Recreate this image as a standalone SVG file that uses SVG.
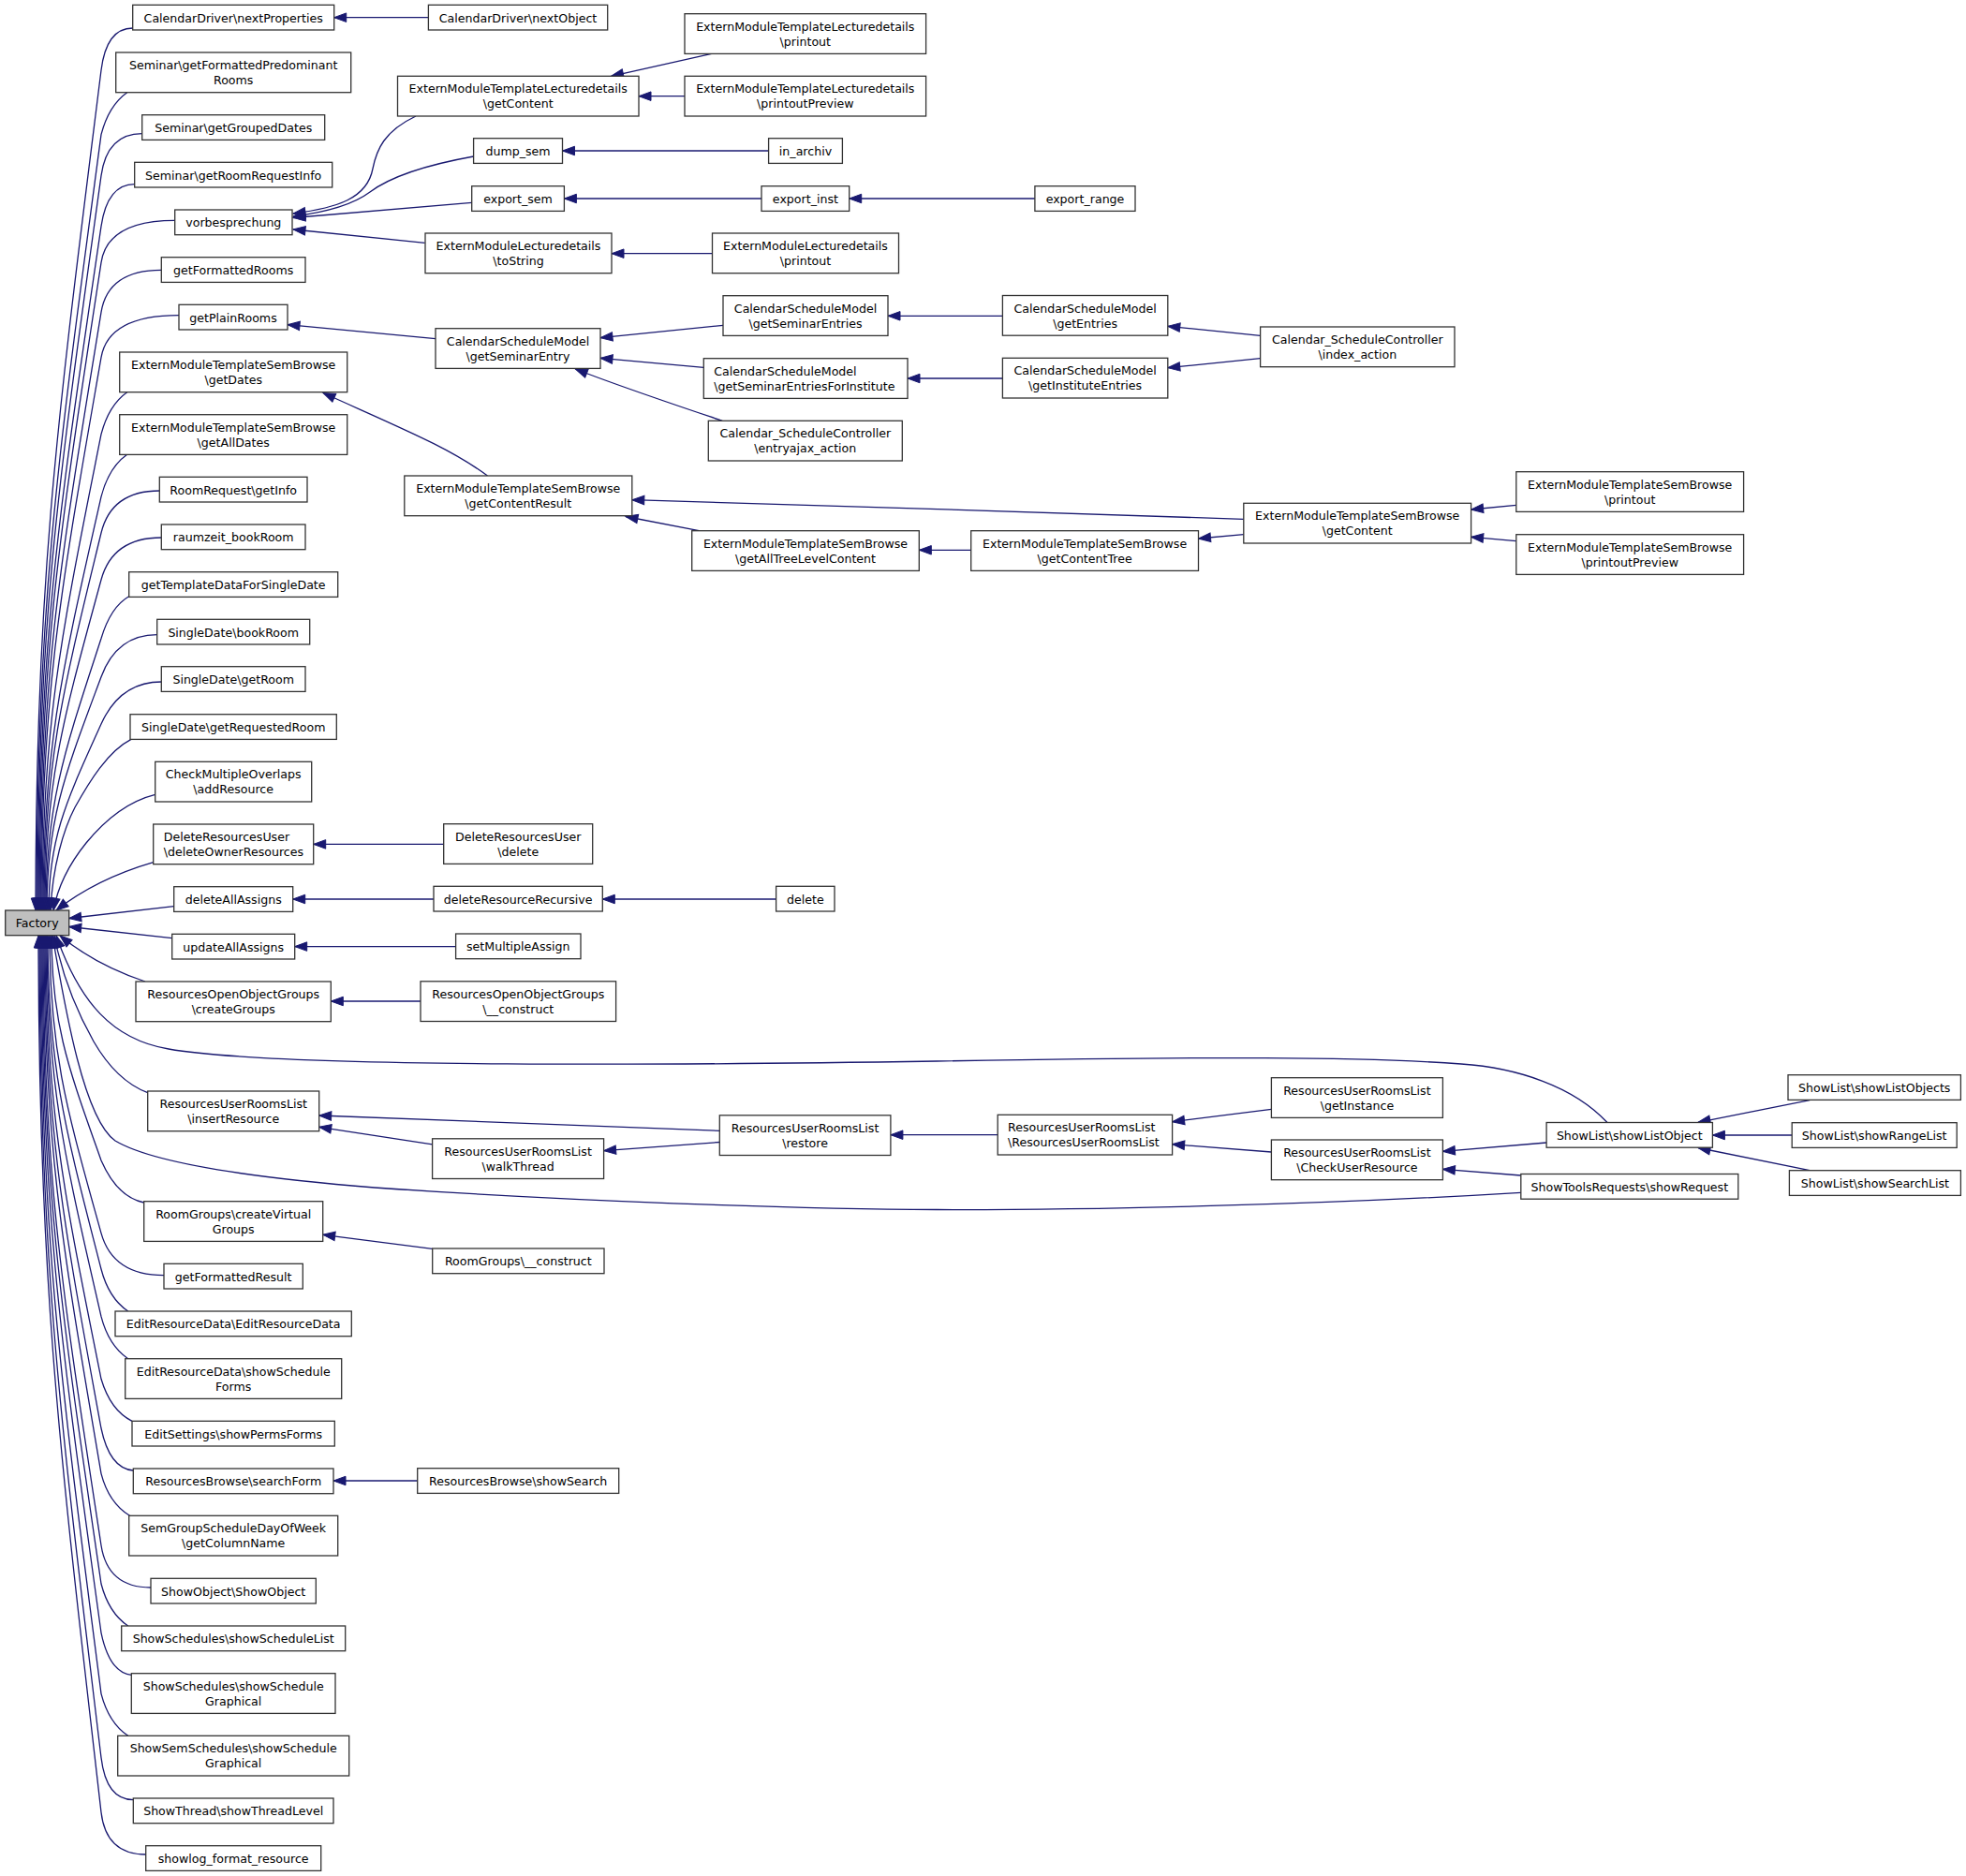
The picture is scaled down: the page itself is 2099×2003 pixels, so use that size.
<svg xmlns="http://www.w3.org/2000/svg" width="2099" height="2003" viewBox="0 0 2099 2003">
<style>
.n rect{fill:#fff;stroke:#333;stroke-width:1.3}
.n text{font-family:"DejaVu Sans",sans-serif;font-size:12.6px;fill:#000;text-anchor:middle}
.n text.l{text-anchor:start}
#Factory rect{fill:#bfbfbf}
.e path{fill:none;stroke:#191970;stroke-width:1.3;marker-end:url(#a)}
</style>
<defs>
<marker id="a" markerUnits="userSpaceOnUse" markerWidth="15" markerHeight="11" refX="13" refY="4.75" orient="auto" overflow="visible">
<path d="M0,0 L13,4.75 L0,9.5 z" fill="#191970" stroke="#191970" stroke-width="1"/>
</marker>
</defs>
<rect width="2099" height="2003" fill="#fff"/>
<g class="e" id="connectors">
<path d="M141.7,30 Q113.6,30 108,75 C63.2,433.8 38,613.2 38,972"/>
<path d="M135.7,98.7 Q116,112.7 108,143.7 C63.8,475 39,640.7 39,972"/>
<path d="M151.7,142.7 Q114.2,142.7 108,187.7 C64.5,501.4 40,658.3 40,972"/>
<path d="M143.7,196.7 Q114.6,196.7 108,241.7 C65.1,533.8 41,679.9 41,972"/>
<path d="M186.7,235.3 Q114.9,235.3 108,280.3 C65.8,557 42,695.3 42,972"/>
<path d="M172.3,288.3 Q115.3,288.3 108,333.3 C66.4,588.8 43,716.5 43,972"/>
<path d="M191,336.7 Q115.8,336.7 108,381.7 C67,617.8 44,735.9 44,972"/>
<path d="M135.7,418.7 Q116,432.7 108,463.7 C67.7,667 45,768.7 45,972"/>
<path d="M135.7,485.3 Q116,499.3 108,530.3 C68.3,707 46,795.3 46,972"/>
<path d="M170.3,524 Q118.9,524 108,569 C69,730.2 47,810.8 47,972"/>
<path d="M172.3,574 Q120.2,574 108,619 C69.6,760.2 48,830.8 48,972"/>
<path d="M137.7,636.7 Q118,648 108,681.7 C70.2,797.8 49,855.9 49,972"/>
<path d="M167.7,677.7 Q124.7,677.7 108,722.7 C70.9,822.4 50,872.3 50,972"/>
<path d="M172.3,728 Q128.3,728 108,773 C72.2,852.6 52,892.4 52,972"/>
<path d="M140,789.3 C115,802 95,835 80,862 C68,885 56,925 54,972"/>
<path d="M165.7,848.3 C135,856 110,878 92,900 C75,921 62,945 57,972"/>
<path d="M163.7,920.7 C125,932 88,950 60,972"/>
<path d="M185.7,967.7 L73.7,980.5"/>
<path d="M183.7,1001.7 L73.7,989.5"/>
<path d="M155,1048 C125,1038 92,1022 64,999"/>
<path d="M157.7,1166.7 C135,1158 115,1138 100,1112 C82,1080 66,1040 58,999"/>
<path d="M153.7,1284 Q125,1278 108,1239 C74.1,1143 55,1095 55,999"/>
<path d="M175,1361.7 Q120.5,1361.7 108,1316.7 C72.8,1189.6 53,1126.1 53,999"/>
<path d="M136.7,1400 Q116,1386 108,1355 C71.5,1212.6 51,1141.4 51,999"/>
<path d="M136.7,1450.7 Q116,1436.7 108,1405.7 C70.9,1243 50,1161.7 50,999"/>
<path d="M141,1517.3 Q118,1506 108,1472.3 C70.2,1283 49,1188.3 49,999"/>
<path d="M142.3,1570 Q117,1568 108,1525 C69.6,1314.6 48,1209.4 48,999"/>
<path d="M138.5,1618.3 Q116,1604.3 108,1573.3 C69,1343.6 47,1228.7 47,999"/>
<path d="M161,1695 Q114.9,1695 108,1650 C68.3,1389.6 46,1259.4 46,999"/>
<path d="M136.7,1736 Q116,1722 108,1691 C67.7,1414.2 45,1275.8 45,999"/>
<path d="M140.3,1788.3 Q117,1786 108,1743.3 C67,1445.6 44,1296.7 44,999"/>
<path d="M136.7,1853.3 Q116,1839.3 108,1808.3 C66.4,1484.6 43,1322.7 43,999"/>
<path d="M142.3,1921.7 Q113.4,1921.7 108,1876.7 C65.8,1525.6 42,1350.1 42,999"/>
<path d="M155.7,1980 Q113.2,1980 108,1935 C65.1,1560.6 41,1373.4 41,999"/>
<path d="M1715.8,1198.3 C1680,1160 1620,1140 1560,1136 C1450,1128 1300,1128 1000,1133 C750,1137 300,1141 180,1120 C120,1110 85,1070 60,999"/>
<path d="M1623.8,1273.3 C1400,1287 1150,1292 1000,1291.5 C850,1291 600,1282 400,1268 C250,1256 160,1240 123,1218 C90,1195 70,1080 56,999"/>
<path d="M457.4,18.7 L356.7,18.7"/>
<path d="M444,124 C410,140 402,160 398,180 C392,212 360,222 313,228"/>
<path d="M505.6,167 C450,177 415,190 395,205 C375,220 345,227 313,231"/>
<path d="M503.7,216.3 L313,232.5"/>
<path d="M453.6,259.3 L313,245"/>
<path d="M759.7,57.3 L652.6,81.3"/>
<path d="M731,102.7 L682,102.7"/>
<path d="M820.6,161 L600.5,161"/>
<path d="M813,212 L602.4,212"/>
<path d="M1104.9,212 L906.7,212"/>
<path d="M760.5,270.7 L653,270.7"/>
<path d="M465,361.7 L307,346.7"/>
<path d="M772,347.3 L641,360.7"/>
<path d="M751.3,392.3 L641,382.3"/>
<path d="M771.2,449.3 C720,432 660,412 614.3,394"/>
<path d="M1070.4,337.3 L948,337.3"/>
<path d="M1070.4,404 L969,404"/>
<path d="M1345.6,358.3 L1246.8,348.3"/>
<path d="M1345.6,382.7 L1246.8,392.7"/>
<path d="M520.5,508 C480,478 430,458 345,419.5"/>
<path d="M1327.8,554.3 C1100,547 900,540 674.8,533.7"/>
<path d="M746.3,566.7 L668,551.5"/>
<path d="M1036.7,587.3 L981.3,587.3"/>
<path d="M1327.8,570.7 L1279.5,575"/>
<path d="M1618.8,539.3 L1570.6,544"/>
<path d="M1618.8,577.7 L1570.6,573.3"/>
<path d="M473.7,901.4 L334.7,901.4"/>
<path d="M463,960 L312.7,960"/>
<path d="M828.6,960 L643.3,960"/>
<path d="M486.6,1010.6 L314.7,1010.6"/>
<path d="M449,1069 L353.3,1069"/>
<path d="M768.3,1207.3 L340.7,1191"/>
<path d="M461.6,1221.9 L340.7,1203.3"/>
<path d="M768.3,1219.5 L644.6,1228.6"/>
<path d="M1065.2,1211.7 L950.9,1211.7"/>
<path d="M1357.4,1184.3 L1251.6,1197.7"/>
<path d="M1357.4,1230 L1251.6,1221.7"/>
<path d="M1651.1,1220 L1540.4,1229.3"/>
<path d="M1623.8,1255 L1540.4,1248.3"/>
<path d="M1932.2,1174.7 L1813,1198.3"/>
<path d="M1913.2,1212 L1828.4,1212"/>
<path d="M1932.2,1249.7 L1813,1225.5"/>
<path d="M461.6,1333.4 L344.7,1318.3"/>
<path d="M445.7,1581 L356,1581"/>
</g>
<g id="nodes">
<g class="n" id="Factory"><rect x="5.7" y="972" width="68" height="26.7"/><text x="39.7" y="990.4">Factory</text></g>
<g class="n" id="nextProperties"><rect x="141.7" y="5.3" width="215" height="26.7"/><text x="249.2" y="23.7">CalendarDriver\nextProperties</text></g>
<g class="n" id="getFormattedPredominantRooms"><rect x="123.7" y="56" width="251" height="42.7"/><text x="249.2" y="74.1">Seminar\getFormattedPredominant</text><text x="249.2" y="90.1">Rooms</text></g>
<g class="n" id="getGroupedDates"><rect x="151.7" y="122.7" width="195" height="26.7"/><text x="249.2" y="141.1">Seminar\getGroupedDates</text></g>
<g class="n" id="getRoomRequestInfo"><rect x="143.7" y="173.3" width="211" height="26.7"/><text x="249.2" y="191.7">Seminar\getRoomRequestInfo</text></g>
<g class="n" id="vorbesprechung"><rect x="186.7" y="224" width="125.3" height="26.7"/><text x="249.3" y="242.4">vorbesprechung</text></g>
<g class="n" id="getFormattedRooms"><rect x="172.3" y="274.7" width="153.7" height="26.7"/><text x="249.2" y="293.1">getFormattedRooms</text></g>
<g class="n" id="getPlainRooms"><rect x="191" y="325.3" width="116" height="26.7"/><text x="249" y="343.7">getPlainRooms</text></g>
<g class="n" id="semGetDates"><rect x="127.7" y="376" width="243" height="42.7"/><text x="249.2" y="394.1">ExternModuleTemplateSemBrowse</text><text x="249.2" y="410.1">\getDates</text></g>
<g class="n" id="semGetAllDates"><rect x="127.7" y="442.7" width="243" height="42.7"/><text x="249.2" y="460.8">ExternModuleTemplateSemBrowse</text><text x="249.2" y="476.8">\getAllDates</text></g>
<g class="n" id="roomRequestGetInfo"><rect x="170.3" y="509.3" width="157.7" height="26.7"/><text x="249.2" y="527.7">RoomRequest\getInfo</text></g>
<g class="n" id="raumzeit_bookRoom"><rect x="172.3" y="560" width="153.7" height="26.7"/><text x="249.2" y="578.4">raumzeit_bookRoom</text></g>
<g class="n" id="getTemplateDataForSingleDate"><rect x="137.7" y="610.7" width="223" height="26.7"/><text x="249.2" y="629.1">getTemplateDataForSingleDate</text></g>
<g class="n" id="singleDateBookRoom"><rect x="167.7" y="661.3" width="163" height="26.7"/><text x="249.2" y="679.7">SingleDate\bookRoom</text></g>
<g class="n" id="singleDateGetRoom"><rect x="172.3" y="711.7" width="153.7" height="26.7"/><text x="249.2" y="730.1">SingleDate\getRoom</text></g>
<g class="n" id="singleDateGetRequestedRoom"><rect x="139" y="762.7" width="220.3" height="26.7"/><text x="249.2" y="781.1">SingleDate\getRequestedRoom</text></g>
<g class="n" id="checkMultipleOverlaps"><rect x="165.7" y="813.3" width="167" height="42.7"/><text x="249.2" y="831.4">CheckMultipleOverlaps</text><text x="249.2" y="847.4">\addResource</text></g>
<g class="n" id="deleteOwnerResources"><rect x="163.7" y="880" width="171" height="42.7"/><text class="l" x="174.7" y="898.1">DeleteResourcesUser</text><text class="l" x="174.7" y="914.1">\deleteOwnerResources</text></g>
<g class="n" id="deleteAllAssigns"><rect x="185.7" y="946.7" width="127" height="26.7"/><text x="249.2" y="965.1">deleteAllAssigns</text></g>
<g class="n" id="updateAllAssigns"><rect x="183.7" y="997.3" width="131" height="26.7"/><text x="249.2" y="1015.7">updateAllAssigns</text></g>
<g class="n" id="createGroups"><rect x="145" y="1048" width="208.3" height="42.7"/><text x="249.2" y="1066.1">ResourcesOpenObjectGroups</text><text x="249.2" y="1082.1">\createGroups</text></g>
<g class="n" id="insertResource"><rect x="157.7" y="1165" width="183" height="42.7"/><text x="249.2" y="1183.1">ResourcesUserRoomsList</text><text x="249.2" y="1199.1">\insertResource</text></g>
<g class="n" id="createVirtualGroups"><rect x="153.7" y="1282.7" width="191" height="42.7"/><text x="249.2" y="1300.8">RoomGroups\createVirtual</text><text x="249.2" y="1316.8">Groups</text></g>
<g class="n" id="getFormattedResult"><rect x="175" y="1349.3" width="148.3" height="26.7"/><text x="249.2" y="1367.7">getFormattedResult</text></g>
<g class="n" id="editResourceData"><rect x="123" y="1400" width="252.3" height="26.7"/><text x="249.2" y="1418.4">EditResourceData\EditResourceData</text></g>
<g class="n" id="showScheduleForms"><rect x="133.7" y="1450.7" width="231" height="42.7"/><text x="249.2" y="1468.8">EditResourceData\showSchedule</text><text x="249.2" y="1484.8">Forms</text></g>
<g class="n" id="showPermsForms"><rect x="141" y="1517.3" width="216.3" height="26.7"/><text x="249.2" y="1535.7">EditSettings\showPermsForms</text></g>
<g class="n" id="searchForm"><rect x="142.3" y="1568" width="213.7" height="26.7"/><text x="249.2" y="1586.4">ResourcesBrowse\searchForm</text></g>
<g class="n" id="getColumnName"><rect x="137.7" y="1618.3" width="223" height="42.7"/><text x="249.2" y="1636.4">SemGroupScheduleDayOfWeek</text><text x="249.2" y="1652.4">\getColumnName</text></g>
<g class="n" id="showObject"><rect x="161" y="1685.3" width="176.3" height="26.7"/><text x="249.2" y="1703.7">ShowObject\ShowObject</text></g>
<g class="n" id="showScheduleList"><rect x="129.7" y="1736" width="239" height="26.7"/><text x="249.2" y="1754.4">ShowSchedules\showScheduleList</text></g>
<g class="n" id="showScheduleGraphical"><rect x="140.3" y="1786.7" width="217.7" height="42.7"/><text x="249.2" y="1804.8">ShowSchedules\showSchedule</text><text x="249.2" y="1820.8">Graphical</text></g>
<g class="n" id="semShowScheduleGraphical"><rect x="125.7" y="1853.3" width="247" height="42.7"/><text x="249.2" y="1871.4">ShowSemSchedules\showSchedule</text><text x="249.2" y="1887.4">Graphical</text></g>
<g class="n" id="showThreadLevel"><rect x="142.3" y="1920" width="213.7" height="26.7"/><text x="249.2" y="1938.4">ShowThread\showThreadLevel</text></g>
<g class="n" id="showlog_format_resource"><rect x="155.7" y="1970.7" width="187" height="26.7"/><text x="249.2" y="1989.1">showlog_format_resource</text></g>
<g class="n" id="nextObject"><rect x="457.4" y="5.3" width="191.3" height="26.7"/><text x="553" y="23.7">CalendarDriver\nextObject</text></g>
<g class="n" id="lectGetContent"><rect x="424.5" y="81.3" width="257.5" height="42.7"/><text x="553.2" y="99.4">ExternModuleTemplateLecturedetails</text><text x="553.2" y="115.4">\getContent</text></g>
<g class="n" id="dump_sem"><rect x="505.6" y="147.7" width="94.9" height="26.7"/><text x="553" y="166.1">dump_sem</text></g>
<g class="n" id="export_sem"><rect x="503.7" y="198.7" width="98.7" height="26.7"/><text x="553" y="217.1">export_sem</text></g>
<g class="n" id="toString"><rect x="454" y="249" width="199" height="42.7"/><text x="553.5" y="267.1">ExternModuleLecturedetails</text><text x="553.5" y="283.1">\toString</text></g>
<g class="n" id="getSeminarEntry"><rect x="465" y="350.7" width="176" height="42.7"/><text x="553" y="368.8">CalendarScheduleModel</text><text x="553" y="384.8">\getSeminarEntry</text></g>
<g class="n" id="getContentResult"><rect x="431.8" y="508" width="243" height="42.7"/><text x="553.3" y="526.1">ExternModuleTemplateSemBrowse</text><text x="553.3" y="542.1">\getContentResult</text></g>
<g class="n" id="deleteResUserDelete"><rect x="473.7" y="879.7" width="159" height="42.7"/><text x="553.2" y="897.8">DeleteResourcesUser</text><text x="553.2" y="913.8">\delete</text></g>
<g class="n" id="deleteResourceRecursive"><rect x="463" y="946.3" width="180.3" height="26.7"/><text x="553.2" y="964.7">deleteResourceRecursive</text></g>
<g class="n" id="setMultipleAssign"><rect x="486.6" y="997" width="133.4" height="26.7"/><text x="553.3" y="1015.4">setMultipleAssign</text></g>
<g class="n" id="openObjectGroupsConstruct"><rect x="449" y="1047.8" width="208.6" height="42.7"/><text x="553.3" y="1065.9">ResourcesOpenObjectGroups</text><text x="553.3" y="1081.9">\__construct</text></g>
<g class="n" id="walkThread"><rect x="461.6" y="1215.8" width="183" height="42.7"/><text x="553.1" y="1233.9">ResourcesUserRoomsList</text><text x="553.1" y="1249.9">\walkThread</text></g>
<g class="n" id="roomGroupsConstruct"><rect x="461.7" y="1333" width="183.3" height="26.7"/><text x="553.3" y="1351.4">RoomGroups\__construct</text></g>
<g class="n" id="showSearch"><rect x="445.7" y="1567.7" width="215" height="26.7"/><text x="553.2" y="1586.1">ResourcesBrowse\showSearch</text></g>
<g class="n" id="lectPrintout"><rect x="731" y="14.7" width="257.6" height="42.7"/><text x="859.8" y="32.8">ExternModuleTemplateLecturedetails</text><text x="859.8" y="48.8">\printout</text></g>
<g class="n" id="lectPrintoutPreview"><rect x="731" y="81.3" width="257.6" height="42.7"/><text x="859.8" y="99.4">ExternModuleTemplateLecturedetails</text><text x="859.8" y="115.4">\printoutPreview</text></g>
<g class="n" id="in_archiv"><rect x="820.6" y="147.7" width="78.8" height="26.7"/><text x="860" y="166.1">in_archiv</text></g>
<g class="n" id="export_inst"><rect x="813" y="198.7" width="93.7" height="26.7"/><text x="859.9" y="217.1">export_inst</text></g>
<g class="n" id="lecturedetailsPrintout"><rect x="760.5" y="249" width="199" height="42.7"/><text x="860" y="267.1">ExternModuleLecturedetails</text><text x="860" y="283.1">\printout</text></g>
<g class="n" id="getSeminarEntries"><rect x="772" y="315.7" width="176" height="42.7"/><text x="860" y="333.8">CalendarScheduleModel</text><text x="860" y="349.8">\getSeminarEntries</text></g>
<g class="n" id="getSeminarEntriesForInstitute"><rect x="751.3" y="382.7" width="217.7" height="42.7"/><text class="l" x="762.3" y="400.8">CalendarScheduleModel</text><text class="l" x="762.3" y="416.8">\getSeminarEntriesForInstitute</text></g>
<g class="n" id="entryajax_action"><rect x="756.3" y="449.3" width="207" height="42.7"/><text x="859.8" y="467.4">Calendar_ScheduleController</text><text x="859.8" y="483.4">\entryajax_action</text></g>
<g class="n" id="getAllTreeLevelContent"><rect x="738.7" y="566.7" width="242.6" height="42.7"/><text x="860" y="584.8">ExternModuleTemplateSemBrowse</text><text x="860" y="600.8">\getAllTreeLevelContent</text></g>
<g class="n" id="delete"><rect x="828.6" y="946.3" width="62.4" height="26.7"/><text x="859.8" y="964.7">delete</text></g>
<g class="n" id="restore"><rect x="768.3" y="1190.8" width="182.6" height="42.7"/><text x="859.6" y="1208.9">ResourcesUserRoomsList</text><text x="859.6" y="1224.9">\restore</text></g>
<g class="n" id="export_range"><rect x="1104.9" y="198.7" width="107.1" height="26.7"/><text x="1158.5" y="217.1">export_range</text></g>
<g class="n" id="getEntries"><rect x="1070.4" y="315.5" width="176.4" height="42.7"/><text x="1158.6" y="333.6">CalendarScheduleModel</text><text x="1158.6" y="349.6">\getEntries</text></g>
<g class="n" id="getInstituteEntries"><rect x="1070.4" y="382.3" width="176.4" height="42.7"/><text x="1158.6" y="400.4">CalendarScheduleModel</text><text x="1158.6" y="416.4">\getInstituteEntries</text></g>
<g class="n" id="getContentTree"><rect x="1036.7" y="566.7" width="242.8" height="42.7"/><text x="1158.1" y="584.8">ExternModuleTemplateSemBrowse</text><text x="1158.1" y="600.8">\getContentTree</text></g>
<g class="n" id="rurlConstruct"><rect x="1065.2" y="1190.3" width="186.4" height="42.7"/><text class="l" x="1076" y="1208.4">ResourcesUserRoomsList</text><text class="l" x="1076" y="1224.4">\ResourcesUserRoomsList</text></g>
<g class="n" id="index_action"><rect x="1345.6" y="349" width="207.4" height="42.7"/><text x="1449.3" y="367.1">Calendar_ScheduleController</text><text x="1449.3" y="383.1">\index_action</text></g>
<g class="n" id="semGetContent"><rect x="1327.8" y="537.3" width="242.8" height="42.7"/><text x="1449.2" y="555.4">ExternModuleTemplateSemBrowse</text><text x="1449.2" y="571.4">\getContent</text></g>
<g class="n" id="getInstance"><rect x="1357.4" y="1150.7" width="183" height="42.7"/><text x="1448.9" y="1168.8">ResourcesUserRoomsList</text><text x="1448.9" y="1184.8">\getInstance</text></g>
<g class="n" id="checkUserResource"><rect x="1357.4" y="1217" width="183" height="42.7"/><text x="1448.9" y="1235.1">ResourcesUserRoomsList</text><text x="1448.9" y="1251.1">\CheckUserResource</text></g>
<g class="n" id="semPrintout"><rect x="1618.8" y="503.7" width="242.8" height="42.7"/><text x="1740.2" y="521.8">ExternModuleTemplateSemBrowse</text><text x="1740.2" y="537.8">\printout</text></g>
<g class="n" id="semPrintoutPreview"><rect x="1618.8" y="570.7" width="242.8" height="42.7"/><text x="1740.2" y="588.8">ExternModuleTemplateSemBrowse</text><text x="1740.2" y="604.8">\printoutPreview</text></g>
<g class="n" id="showListObject"><rect x="1651.1" y="1198.5" width="177.3" height="26.7"/><text x="1739.8" y="1216.9">ShowList\showListObject</text></g>
<g class="n" id="showRequest"><rect x="1623.8" y="1253.5" width="232" height="26.7"/><text x="1739.8" y="1271.9">ShowToolsRequests\showRequest</text></g>
<g class="n" id="showListObjects"><rect x="1909" y="1147.7" width="184.4" height="26.7"/><text x="2001.2" y="1166.1">ShowList\showListObjects</text></g>
<g class="n" id="showRangeList"><rect x="1913.2" y="1198.7" width="176" height="26.7"/><text x="2001.2" y="1217.1">ShowList\showRangeList</text></g>
<g class="n" id="showSearchList"><rect x="1910.4" y="1249.7" width="183" height="26.7"/><text x="2001.9" y="1268.1">ShowList\showSearchList</text></g>
</g>
</svg>
